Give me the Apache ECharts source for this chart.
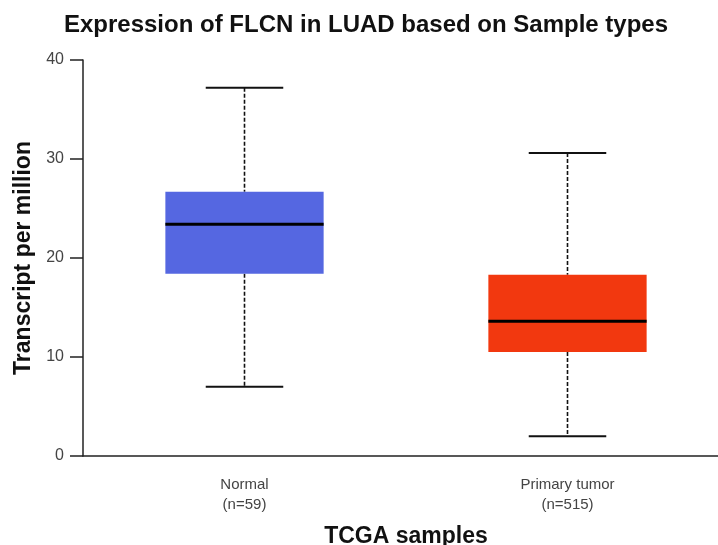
<!DOCTYPE html>
<html>
<head>
<meta charset="utf-8">
<script src="https://cdn.jsdelivr.net/npm/echarts@6/dist/echarts.min.js"></script>
<style>html,body{margin:0;padding:0;background:#fff}#main{width:718px;height:545px}</style>
</head>
<body>
<div id="main"></div>
<script>
var categories = ['Normal\n(n=59)', 'Primary tumor\n(n=515)'];
var minVals = [7.0, 2.0];
var q1Vals = [18.4, 10.5];
var medianVals = [23.4, 13.6];
var q3Vals = [26.7, 18.3];
var maxVals = [37.2, 30.6];
var boxColors = ['#5567E1', '#F2380F'];
var yTicks = [0, 10, 20, 30, 40];

var data = categories.map(function (c, i) {
  return [i, minVals[i], q1Vals[i], medianVals[i], q3Vals[i], maxVals[i]];
});

function renderItem(params, api) {
  var idx = api.value(0);
  var catW = api.size([1, 0])[0];
  var boxW = catW * 0.49;
  var capW = catW * 0.24;
  var pMin = api.coord([idx, api.value(1)]);
  var pQ1 = api.coord([idx, api.value(2)]);
  var pMed = api.coord([idx, api.value(3)]);
  var pQ3 = api.coord([idx, api.value(4)]);
  var pMax = api.coord([idx, api.value(5)]);
  var cx = pMed[0];
  var dashStyle = {stroke: '#111', lineWidth: 1.6, lineDash: [4, 2]};
  var capStyle = {stroke: '#111', lineWidth: 2};
  return {
    type: 'group',
    children: [
      {type: 'line', shape: {x1: cx, y1: pMax[1], x2: cx, y2: pQ3[1]}, style: dashStyle},
      {type: 'line', shape: {x1: cx, y1: pQ1[1], x2: cx, y2: pMin[1]}, style: dashStyle},
      {type: 'line', shape: {x1: cx - capW / 2, y1: pMax[1], x2: cx + capW / 2, y2: pMax[1]}, style: capStyle},
      {type: 'line', shape: {x1: cx - capW / 2, y1: pMin[1], x2: cx + capW / 2, y2: pMin[1]}, style: capStyle},
      {type: 'rect', shape: {x: cx - boxW / 2, y: pQ3[1], width: boxW, height: pQ1[1] - pQ3[1]},
        style: {fill: boxColors[idx], stroke: null}},
      {type: 'line', shape: {x1: cx - boxW / 2, y1: pMed[1], x2: cx + boxW / 2, y2: pMed[1]},
        style: {stroke: '#000', lineWidth: 3}}
    ]
  };
}

var chart = echarts.init(document.getElementById('main'), null, {renderer: 'canvas'});
chart.setOption({
  animation: false,
  backgroundColor: '#fff',
  graphic: [{
    type: 'text', x: 366, y: 25,
    style: {text: 'Expression of FLCN in LUAD based on Sample types', textAlign: 'center', textVerticalAlign: 'middle',
      font: 'bold 24px "Liberation Sans", Arial, sans-serif', fill: '#111'}
  }],
  grid: {left: 83, top: 60, width: 646, height: 396, outerBoundsMode: 'none', containLabel: false},
  xAxis: {
    type: 'category',
    data: categories,
    name: 'TCGA samples',
    nameLocation: 'middle',
    nameGap: 69,
    nameTextStyle: {fontSize: 23, fontWeight: 'bold', color: '#111', fontFamily: 'Liberation Sans'},
    axisLine: {lineStyle: {color: '#222', width: 1.5}},
    axisTick: {show: false},
    axisLabel: {fontSize: 15, color: '#444', lineHeight: 20, margin: 19, fontFamily: 'Liberation Sans'},
    splitLine: {show: false}
  },
  yAxis: {
    type: 'value',
    min: 0, max: 40, interval: 10,
    name: 'Transcript per million',
    nameLocation: 'middle',
    nameGap: 47,
    nameTextStyle: {fontSize: 23, fontWeight: 'bold', color: '#111', fontFamily: 'Liberation Sans'},
    axisLine: {show: true, lineStyle: {color: '#222', width: 1.5}},
    axisTick: {show: true, length: 13, lineStyle: {color: '#222', width: 1.5}},
    axisLabel: {fontSize: 16, color: '#444', margin: 19, fontFamily: 'Liberation Sans',
      formatter: function (v) { return yTicks.indexOf(v) >= 0 ? String(v) : ''; }},
    splitLine: {show: false}
  },
  series: [{
    type: 'custom',
    renderItem: renderItem,
    encode: {x: 0, y: [1, 2, 3, 4, 5]},
    data: data,
    clip: false
  }]
});
</script>
</body>
</html>
